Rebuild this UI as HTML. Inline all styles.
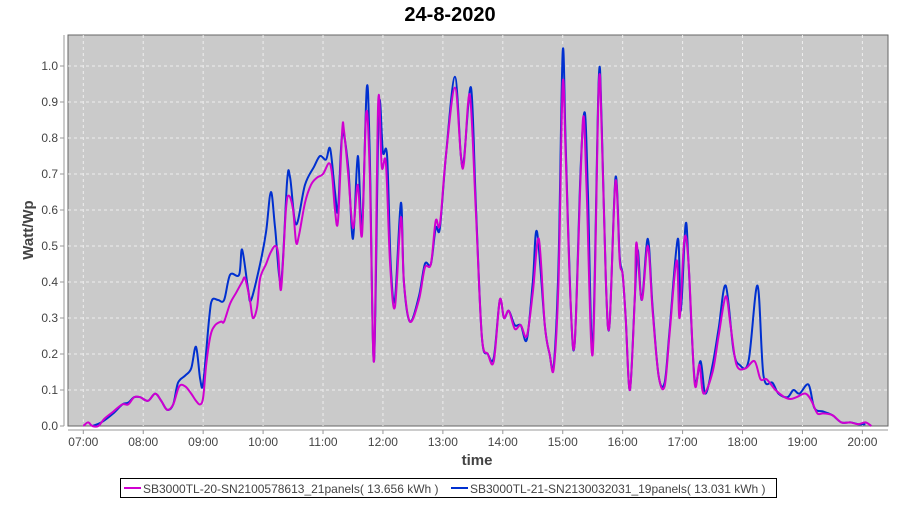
<!DOCTYPE html>
<html><head><meta charset="utf-8"><style>
body{margin:0;background:#fff;}
svg text{font-family:"Liberation Sans","DejaVu Sans",sans-serif;}
</style></head><body>
<svg id="s" width="900" height="500" xmlns="http://www.w3.org/2000/svg">
<text x="450" y="21" text-anchor="middle" font-size="20" font-weight="bold" fill="#000">24-8-2020</text>
<rect x="68" y="35" width="820" height="391" fill="#cacaca" stroke="#666" stroke-width="1"/>
<g id="grid" stroke="#eee" stroke-width="1" stroke-dasharray="3,3"></g>
<line x1="64" y1="35" x2="64" y2="426" stroke="#999"/>
<line x1="68" y1="430" x2="888" y2="430" stroke="#999"/>
<g id="lab" font-size="12" fill="#444"></g>
<g id="ser" fill="none" stroke-width="2" stroke-linejoin="round"></g>
<text x="477" y="465" text-anchor="middle" font-size="15" font-weight="bold" fill="#444">time</text>
<text transform="translate(33,230) rotate(-90)" text-anchor="middle" font-size="15" font-weight="bold" fill="#444">Watt/Wp</text>
<rect x="120.5" y="478.5" width="656" height="19" fill="#fff" stroke="#000"/>
<line x1="124" y1="488" x2="141" y2="488" stroke="#d000d0" stroke-width="2"/>
<text x="143" y="493" font-size="12" fill="#444">SB3000TL-20-SN2100578613_21panels( 13.656 kWh )</text>
<line x1="451" y1="488" x2="468" y2="488" stroke="#0030d0" stroke-width="2"/>
<text x="470" y="493" font-size="12" fill="#444">SB3000TL-21-SN2130032031_19panels( 13.031 kWh )</text>
</svg>
<script>
const NS="http://www.w3.org/2000/svg";
function X(h){return 83.3+(h-7)*59.93;}
function Y(v){return 426-v*360;}
const g=document.getElementById('grid'),lab=document.getElementById('lab'),ser=document.getElementById('ser');
function el(p,t,a,txt){const e=document.createElementNS(NS,t);for(const k in a)e.setAttribute(k,a[k]);if(txt)e.textContent=txt;p.appendChild(e);return e;}
for(let i=0;i<=10;i++){const y=Y(i/10);if(i>0)el(g,'line',{x1:68,x2:888,y1:y,y2:y});
 el(lab,'text',{x:58,y:y+4,'text-anchor':'end'},(i/10).toFixed(1));el(lab,'line',{x1:60,x2:64,y1:y,y2:y,stroke:'#999'});}
for(let h=7;h<=20;h++){const x=X(h);el(g,'line',{x1:x,x2:x,y1:35,y2:426});
 el(lab,'text',{x:x,y:446,'text-anchor':'middle'},(h<10?'0':'')+h+':00');el(lab,'line',{x1:x,x2:x,y1:430,y2:434,stroke:'#999'});}
const M=[[7,0],[7.08,.01],[7.15,0],[7.25,0],[7.35,.02],[7.5,.04],[7.65,.06],[7.75,.06],[7.85,.08],[7.95,.08],[8.08,.07],[8.2,.09],[8.3,.07],[8.4,.045],[8.5,.06],[8.6,.11],[8.7,.11],[8.8,.09],[8.88,.07],[8.95,.06],[9.0,.08],[9.05,.17],[9.12,.25],[9.2,.28],[9.3,.29],[9.35,.29],[9.45,.34],[9.55,.37],[9.65,.40],[9.7,.41],[9.78,.35],[9.83,.30],[9.9,.33],[9.95,.41],[10.05,.45],[10.12,.48],[10.2,.5],[10.25,.48],[10.3,.38],[10.38,.6],[10.43,.64],[10.5,.6],[10.55,.51],[10.6,.53],[10.7,.62],[10.8,.67],[10.9,.69],[11.0,.70],[11.1,.73],[11.15,.70],[11.2,.60],[11.25,.57],[11.32,.82],[11.35,.82],[11.42,.70],[11.5,.55],[11.58,.67],[11.65,.53],[11.72,.87],[11.78,.70],[11.85,.18],[11.92,.90],[11.98,.72],[12.05,.73],[12.12,.45],[12.2,.33],[12.3,.58],[12.35,.40],[12.45,.29],[12.6,.35],[12.7,.44],[12.8,.45],[12.88,.57],[12.95,.56],[13.05,.75],[13.2,.94],[13.3,.75],[13.35,.73],[13.45,.92],[13.55,.60],[13.65,.25],[13.75,.20],[13.85,.18],[13.95,.35],[14.02,.30],[14.1,.32],[14.2,.27],[14.3,.28],[14.4,.25],[14.5,.37],[14.6,.52],[14.7,.28],[14.78,.20],[14.85,.16],[14.93,.40],[15.0,.95],[15.05,.75],[15.13,.35],[15.2,.23],[15.3,.70],[15.35,.86],[15.4,.65],[15.5,.20],[15.6,.94],[15.65,.82],[15.72,.40],[15.78,.28],[15.88,.68],[15.95,.46],[16.0,.42],[16.05,.30],[16.12,.10],[16.2,.35],[16.23,.51],[16.32,.35],[16.42,.50],[16.5,.32],[16.6,.14],[16.7,.11],[16.78,.25],[16.9,.46],[16.95,.30],[17.03,.52],[17.1,.45],[17.2,.12],[17.28,.17],[17.35,.09],[17.5,.15],[17.6,.25],[17.72,.36],[17.8,.28],[17.9,.17],[18.05,.16],[18.2,.18],[18.3,.13],[18.4,.13],[18.55,.10],[18.7,.08],[18.8,.075],[18.9,.08],[19.05,.09],[19.15,.07],[19.25,.035],[19.35,.035],[19.5,.03],[19.65,.01],[19.8,.01],[19.93,.005],[20.05,.01],[20.15,0]];
const B=[[7.15,0],[7.3,.01],[7.5,.035],[7.65,.06],[7.75,.065],[7.85,.08],[7.95,.08],[8.08,.07],[8.2,.09],[8.3,.07],[8.4,.045],[8.5,.06],[8.58,.12],[8.7,.14],[8.8,.16],[8.88,.22],[8.95,.13],[9.0,.12],[9.1,.3],[9.15,.35],[9.25,.35],[9.35,.35],[9.45,.42],[9.6,.42],[9.65,.49],[9.75,.38],[9.8,.35],[9.95,.45],[10.05,.54],[10.13,.65],[10.2,.55],[10.3,.40],[10.4,.68],[10.45,.69],[10.55,.56],[10.7,.67],[10.85,.72],[10.95,.75],[11.05,.74],[11.12,.77],[11.2,.65],[11.25,.6],[11.32,.81],[11.42,.72],[11.5,.52],[11.58,.75],[11.65,.55],[11.73,.94],[11.78,.75],[11.85,.18],[11.93,.88],[12.0,.76],[12.07,.75],[12.13,.45],[12.2,.35],[12.3,.62],[12.35,.40],[12.45,.29],[12.6,.36],[12.7,.45],[12.8,.45],[12.88,.55],[12.95,.55],[13.05,.75],[13.2,.97],[13.3,.75],[13.35,.74],[13.47,.94],[13.55,.62],[13.65,.25],[13.75,.20],[13.85,.19],[13.95,.35],[14.02,.30],[14.1,.32],[14.2,.28],[14.3,.28],[14.4,.24],[14.5,.40],[14.57,.54],[14.7,.28],[14.78,.20],[14.85,.17],[14.93,.45],[15.0,1.04],[15.05,.78],[15.13,.35],[15.2,.23],[15.3,.72],[15.37,.87],[15.42,.65],[15.5,.22],[15.6,.96],[15.65,.84],[15.72,.40],[15.78,.28],[15.88,.69],[15.95,.47],[16.0,.42],[16.05,.30],[16.12,.10],[16.2,.35],[16.25,.49],[16.32,.35],[16.42,.52],[16.5,.33],[16.6,.14],[16.7,.12],[16.78,.26],[16.92,.52],[16.97,.32],[17.05,.56],[17.1,.45],[17.2,.13],[17.3,.18],[17.38,.09],[17.5,.17],[17.6,.27],[17.72,.39],[17.85,.21],[17.95,.17],[18.1,.18],[18.25,.39],[18.35,.14],[18.5,.12],[18.6,.09],[18.75,.08],[18.85,.10],[18.95,.09],[19.1,.115],[19.2,.05],[19.35,.04],[19.5,.03],[19.65,.01],[19.8,.01],[19.93,.005],[20.05,.005]];
function path(d){const p=d.map(a=>[X(a[0]),Y(a[1])]);let s='M'+p[0][0].toFixed(1)+','+p[0][1].toFixed(1);
for(let i=0;i<p.length-1;i++){const p0=p[i-1]||p[i],p1=p[i],p2=p[i+1],p3=p[i+2]||p2;
const c1=[p1[0]+(p2[0]-p0[0])/6,p1[1]+(p2[1]-p0[1])/6],c2=[p2[0]-(p3[0]-p1[0])/6,p2[1]-(p3[1]-p1[1])/6];
s+='C'+c1.map(v=>v.toFixed(1))+' '+c2.map(v=>v.toFixed(1))+' '+p2.map(v=>v.toFixed(1));}return s;}
el(ser,'path',{d:path(B),stroke:'#0030d0'});
el(ser,'path',{d:path(M),stroke:'#d000d0'});
</script>
</body></html>
